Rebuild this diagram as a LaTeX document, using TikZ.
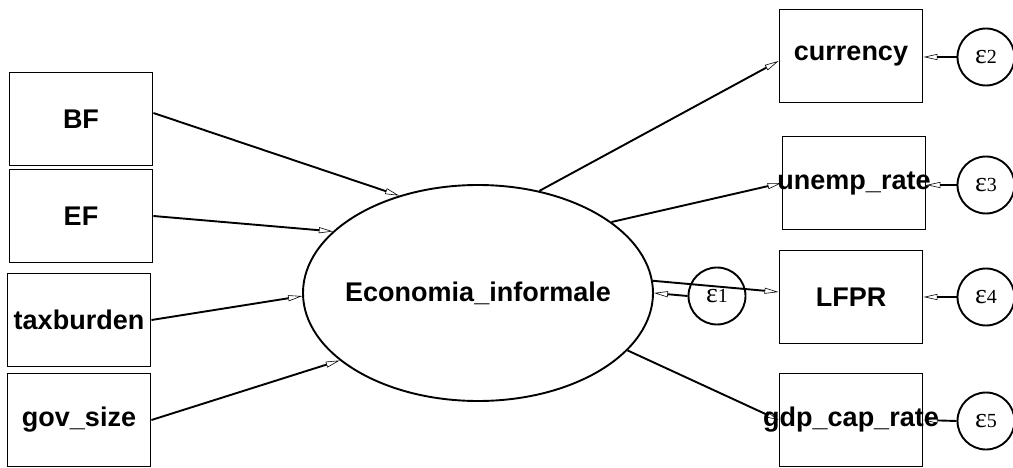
\documentclass[tikz,border=0pt]{standalone}
\usepackage{fontspec}
\setmainfont{Liberation Sans}
\newfontfamily\errfont{Liberation Serif}
\usetikzlibrary{shapes.geometric,arrows.meta}
\newcommand{\errlab}[1]{\raisebox{-2pt}{{\fontsize{28}{30}\selectfont ε}{\fontsize{20}{22}\selectfont #1}}}
\tikzset{
  obsbox/.style={draw, line width=1.9pt, minimum width=143pt, minimum height=93pt, inner sep=0pt, font=\bfseries\fontsize{27}{30}\selectfont},
  latent/.style={draw, ellipse, line width=1.9pt, minimum width=350pt, minimum height=216pt, inner sep=0pt, font=\bfseries\fontsize{27}{30}\selectfont},
  errc/.style={draw, circle, line width=1.9pt, minimum size=57pt, inner sep=0pt, font=\errfont},
  pth/.style={line width=1.9pt, -{Triangle[open, length=14pt, width=6pt, line width=0.6pt]}}
}
\begin{document}
\begin{tikzpicture}[x=1pt,y=-1pt]
\useasboundingbox (0,0) rectangle (1013,468);
% exogenous
\node[obsbox] (BF) at (81,119) {BF};
\node[obsbox] (EF) at (81,216) {EF};
\node[obsbox] (tax) at (79,320) {\makebox[0pt]{taxburden}};
\node[obsbox] (gov) at (79,420) {gov\_size};
% latent
\node[latent] (eco) at (478,293) {\makebox[0pt]{Economia\_informale}};
% indicators
\node[obsbox] (cur) at (851,56) {currency};
\node[obsbox] (une) at (854,183) {\makebox[0pt]{unemp\_rate}};
\node[obsbox] (lfpr) at (851,297) {LFPR};
\node[obsbox] (gdp) at (851,420) {\makebox[0pt]{gdp\_cap\_rate}};
% errors
\node[errc] (e1) at (717,296) {\errlab{1}};
\node[errc] (e2) at (986,57) {\errlab{2}};
\node[errc] (e3) at (986,185) {\errlab{3}};
\node[errc] (e4) at (986,297) {\errlab{4}};
\node[errc] (e5) at (986,421) {\errlab{5}};
% paths in
\draw[pth] ([yshift=6pt]BF.east) -- (eco.129);
\draw[pth] (EF.east) -- (eco.157);
\draw[pth] (tax.east) -- (eco.181);
\draw[pth] (gov.east) -- (eco.206.6);
% paths out
\draw[pth] (eco.59.4) -- ([yshift=-5pt]cur.west);
\draw[pth] (eco.28.6) -- (une.west);
\draw[pth] (eco.4.9) -- ([yshift=5pt]lfpr.west);
\draw[pth] (eco.-21.6) -- (gdp.west);
% errors
\draw[pth] (e1.west) -- (eco.-0.7);
\draw[pth] (e2.west) -- (cur.east |- e2.west);
\draw[pth] (e3.west) -- (une.east |- e3.west);
\draw[pth] (e4.west) -- (lfpr.east);
\draw[pth] (e5.west) -- (gdp.east);
\end{tikzpicture}
\end{document}
